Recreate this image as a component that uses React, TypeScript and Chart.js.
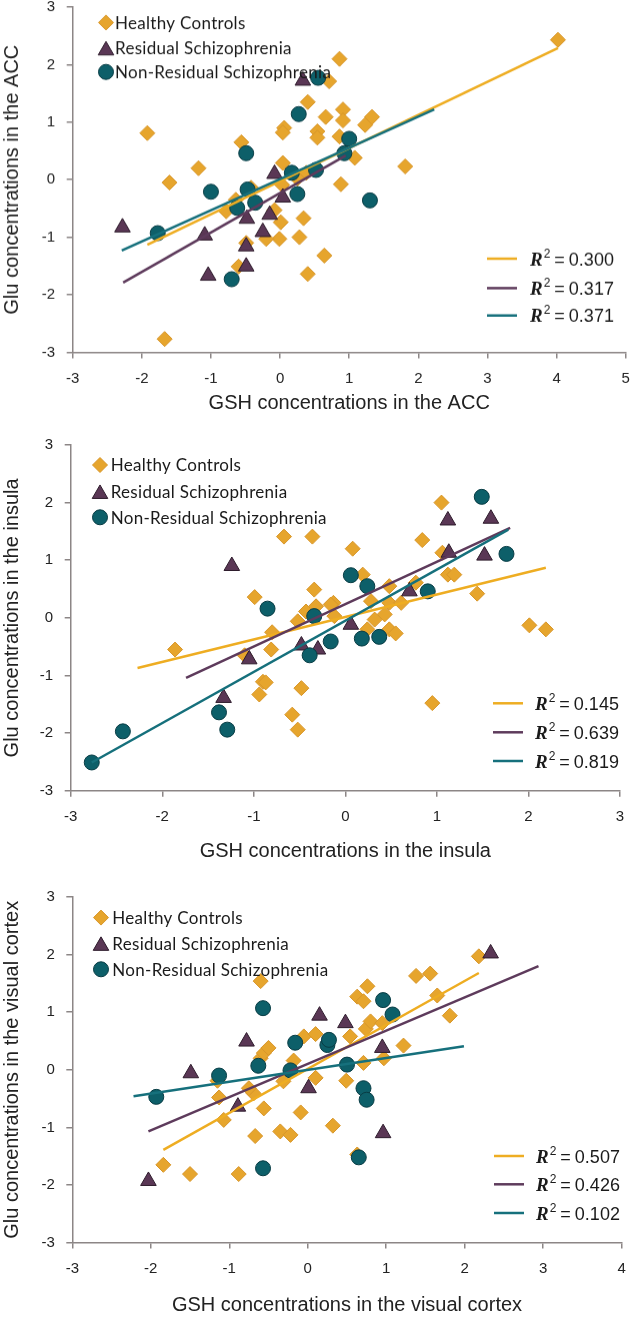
import React, { useEffect, useRef } from "react";
import { Chart, registerables } from "chart.js";

Chart.register(...registerables);

type Pt = [number, number];

// ---------- labels ----------
const GROUP_LABELS = ["Healthy Controls", "Residual Schizophrenia", "Non-Residual Schizophrenia"];
const Y_TICKS = [-3, -2, -1, 0, 1, 2, 3];
const ACC_X_TICKS = [-3, -2, -1, 0, 1, 2, 3, 4, 5];
const INS_X_TICKS = [-3, -2, -1, 0, 1, 2, 3];
const VIS_X_TICKS = [-3, -2, -1, 0, 1, 2, 3, 4];

// ---------- ACC ----------
const ACC_HEALTHY: Pt[] = [
  [-1.92, 0.81], [-1.6, -0.05], [-1.18, 0.2], [-1.67, -2.77], [-0.56, 0.65], [-0.6, -1.51],
  [-0.49, -1.1], [-0.64, -0.35], [-0.78, -0.55], [-0.42, -0.14], [0.04, 0.29], [0.06, 0.9],
  [0.04, 0.82], [0.4, 1.35], [0.03, -0.09], [0.01, -0.74], [-0.01, -1.03], [-0.2, -1.03],
  [-0.08, -0.53], [0.28, -1.0], [0.34, -0.67], [0.4, -1.64], [0.38, 0.12], [0.86, 2.1],
  [0.71, 1.71], [0.66, 1.09], [0.91, 1.22], [0.91, 1.03], [1.33, 1.09], [1.23, 0.95],
  [0.54, 0.84], [0.54, 0.73], [0.86, 0.75], [1.08, 0.38], [1.81, 0.23], [0.88, -0.08],
  [0.64, -1.32], [4.02, 2.43], [0.25, 0.02],
];
const ACC_RESIDUAL: Pt[] = [
  [-2.28, -0.83], [-1.09, -0.97], [-1.04, -1.67], [-0.48, -0.68], [-0.49, -1.16], [-0.49, -1.51],
  [-0.15, -0.61], [-0.25, -0.91], [-0.08, 0.1], [0.04, -0.31], [0.33, 1.72],
];
const ACC_NONRES: Pt[] = [
  [-1.77, -0.93], [-1.0, -0.21], [-0.49, 0.46], [-0.47, -0.17], [-0.62, -0.49], [-0.36, -0.4],
  [-0.7, -1.73], [0.17, 0.12], [0.25, -0.25], [0.27, 1.14], [0.55, 1.77], [0.52, 0.17],
  [1.0, 0.71], [0.93, 0.46], [1.3, -0.36],
];
const ACC_FIT_HEALTHY: Pt[] = [[-1.92, -1.13], [4.02, 2.29]];
const ACC_FIT_RESIDUAL: Pt[] = [[-2.27, -1.79], [0.95, 0.42]];
const ACC_FIT_NONRES: Pt[] = [[-2.29, -1.23], [2.23, 1.22]];
const ACC_R2 = ["0.300", "0.317", "0.371"];

// ---------- Insula ----------
const INS_HEALTHY: Pt[] = [
  [-1.86, -0.55], [-0.99, 0.36], [-0.67, 1.41], [-0.36, 1.41], [-0.8, -0.25], [-0.81, -0.55],
  [-0.9, -1.11], [-0.94, -1.33], [-0.48, -1.22], [-0.58, -1.68], [-0.52, -1.94], [-0.34, 0.49],
  [-0.43, 0.11], [-0.52, -0.06], [-1.1, -0.65], [-0.32, 0.2], [0.08, 1.2], [0.84, 1.35],
  [1.05, 2.0], [1.44, 0.42], [0.19, 0.75], [0.48, 0.55], [0.77, 0.61], [1.12, 0.75],
  [1.19, 0.75], [1.06, 1.13], [0.28, 0.29], [0.48, 0.26], [0.61, 0.26], [-0.13, 0.26],
  [-0.16, 0.23], [2.01, -0.13], [2.19, -0.2], [0.95, -1.48], [0.32, -0.03], [0.43, 0.06],
  [0.24, -0.2], [0.48, -0.2], [0.55, -0.27], [-0.12, 0.03], [-0.87, -1.12],
];
const INS_RESIDUAL: Pt[] = [
  [-1.24, 0.9], [-1.05, -0.72], [-1.33, -1.39], [-0.48, -0.48], [-0.3, -0.55], [0.06, -0.12],
  [0.7, 0.46], [1.12, 1.69], [1.13, 1.13], [1.59, 1.72], [1.52, 1.08],
];
const INS_NONRES: Pt[] = [
  [-2.77, -2.51], [-2.43, -1.97], [-1.38, -1.64], [-1.29, -1.94], [-0.85, 0.16], [-0.39, -0.65],
  [-0.34, 0.03], [-0.16, -0.41], [0.06, 0.74], [0.24, 0.55], [0.18, -0.36], [0.37, -0.33],
  [0.9, 0.46], [1.49, 2.1], [1.76, 1.11],
];
const INS_FIT_HEALTHY: Pt[] = [[-2.27, -0.87], [2.19, 0.87]];
const INS_FIT_RESIDUAL: Pt[] = [[-1.74, -1.04], [1.8, 1.56]];
const INS_FIT_NONRES: Pt[] = [[-2.77, -2.51], [1.78, 1.53]];
const INS_R2 = ["0.145", "0.639", "0.819"];

// ---------- Visual cortex ----------
const VIS_HEALTHY: Pt[] = [
  [-0.6, 1.54], [-1.84, -1.65], [-1.5, -1.81], [-0.88, -1.81], [-0.67, -1.15], [-0.35, -1.07],
  [-0.22, -1.13], [-0.09, -0.74], [-0.56, -0.67], [-1.07, -0.87], [-1.13, -0.48], [-1.15, -0.19],
  [-0.69, -0.41], [-0.75, -0.32], [-0.6, 0.2], [-0.56, 0.29], [-0.5, 0.38], [-0.31, -0.2],
  [-0.18, 0.16], [-0.05, 0.58], [0.1, 0.62], [0.1, -0.14], [0.54, 0.58], [0.63, 1.27],
  [0.71, 1.19], [0.76, 1.45], [0.74, 0.71], [0.8, 0.84], [0.95, 0.81], [1.38, 1.63],
  [1.56, 1.67], [1.65, 1.29], [1.81, 0.94], [2.18, 1.97], [1.22, 0.42], [0.71, 0.12],
  [0.97, 0.2], [0.49, -0.19], [0.32, -0.97], [0.63, -1.47],
];
const VIS_RESIDUAL: Pt[] = [
  [-2.03, -1.93], [-1.49, -0.06], [-0.89, -0.64], [-0.78, 0.49], [0.01, -0.32], [0.15, 0.94],
  [0.48, 0.81], [0.95, 0.38], [2.33, 2.02], [0.96, -1.1],
];
const VIS_NONRES: Pt[] = [
  [-1.93, -0.47], [-1.13, -0.1], [-0.63, 0.07], [-0.57, 1.07], [-0.16, 0.47], [-0.22, -0.01],
  [-0.57, -1.71], [0.25, 0.43], [0.27, 0.52], [0.96, 1.21], [1.08, 0.96], [0.5, 0.09],
  [0.71, -0.32], [0.75, -0.52], [0.65, -1.52],
];
const VIS_FIT_HEALTHY: Pt[] = [[-1.84, -1.39], [2.18, 1.68]];
const VIS_FIT_RESIDUAL: Pt[] = [[-2.03, -1.07], [2.94, 1.8]];
const VIS_FIT_NONRES: Pt[] = [[-2.22, -0.46], [1.99, 0.41]];
const VIS_R2 = ["0.507", "0.426", "0.102"];

// ---------- styles ----------
const HC_FILL = "#E6A52D";
const HC_EDGE = "#D8962A";
const RS_FILL = "#5A3755";
const RS_EDGE = "#2E1C2C";
const NR_FILL = "#0D5F69";
const NR_EDGE = "#083C44";
const HC_LINE = "#EEAD22";
const RS_LINE = "#5E3B5C";
const NR_LINE = "#16707C";
const AXIS = "#8C8686";
const TEXT = "#222222";
const SANS = "'Liberation Sans', Arial, sans-serif";

const R_DIAMOND = 7.5;
const R_TRIANGLE = 9;
const R_CIRCLE = 7.5;

const CANVAS_W = 660;
const TOP_EXTRA = 24;
const Y_TICK_PAD = 11.5;

interface PanelCfg {
  bottom: number;
  area: { left: number; top: number; right: number; bottom: number };
  xTicks: number[];
  xTitle: string;
  yTitle: string;
  xTitlePad: number;
  healthy: Pt[];
  residual: Pt[];
  nonres: Pt[];
  fits: Pt[][];
  r2: string[];
  legend: { mx: number; tx: number; ys: number[] };
  rLegend: { x1: number; x2: number; tx: number; ys: number[] };
}

const PANELS: PanelCfg[] = [
  {
    bottom: 420,
    area: { left: 72.7, top: 7.3, right: 625.7, bottom: 351.7 },
    xTicks: ACC_X_TICKS,
    xTitle: "GSH concentrations in the ACC",
    yTitle: "Glu concentrations in the ACC",
    xTitlePad: 5,
    healthy: ACC_HEALTHY, residual: ACC_RESIDUAL, nonres: ACC_NONRES,
    fits: [ACC_FIT_HEALTHY, ACC_FIT_RESIDUAL, ACC_FIT_NONRES],
    r2: ACC_R2,
    legend: { mx: 106, tx: 115, ys: [22.7, 48.3, 72] },
    rLegend: { x1: 487, x2: 517, tx: 530, ys: [258.3, 287.7, 315] },
  },
  {
    bottom: 870,
    area: { left: 70.7, top: 445, right: 620, bottom: 790.7 },
    xTicks: INS_X_TICKS,
    xTitle: "GSH concentrations in the insula",
    yTitle: "Glu concentrations in the insula",
    xTitlePad: 7,
    healthy: INS_HEALTHY, residual: INS_RESIDUAL, nonres: INS_NONRES,
    fits: [INS_FIT_HEALTHY, INS_FIT_RESIDUAL, INS_FIT_NONRES],
    r2: INS_R2,
    legend: { mx: 100, tx: 110.7, ys: [465, 491.7, 517.3] },
    rLegend: { x1: 493, x2: 523, tx: 535, ys: [703.3, 732.3, 761] },
  },
  {
    bottom: 1317,
    area: { left: 72.3, top: 896.7, right: 621.7, bottom: 1242.3 },
    xTicks: VIS_X_TICKS,
    xTitle: "GSH concentrations in the visual cortex",
    yTitle: "Glu concentrations in the visual cortex",
    xTitlePad: 0,
    healthy: VIS_HEALTHY, residual: VIS_RESIDUAL, nonres: VIS_NONRES,
    fits: [VIS_FIT_HEALTHY, VIS_FIT_RESIDUAL, VIS_FIT_NONRES],
    r2: VIS_R2,
    legend: { mx: 101, tx: 112.3, ys: [917.3, 943.3, 969] },
    rLegend: { x1: 494, x2: 524, tx: 536, ys: [1155.7, 1184, 1212.7] },
  },
];

const toXY = (pts: Pt[]) => pts.map(([x, y]) => ({ x, y }));

function drawMarker(ctx: CanvasRenderingContext2D, kind: number, x: number, y: number) {
  ctx.save();
  ctx.beginPath();
  if (kind === 0) {
    const r = R_DIAMOND;
    ctx.moveTo(x - r, y);
    ctx.lineTo(x, y - r);
    ctx.lineTo(x + r, y);
    ctx.lineTo(x, y + r);
    ctx.closePath();
    ctx.fillStyle = HC_FILL;
    ctx.strokeStyle = HC_EDGE;
  } else if (kind === 1) {
    const r = R_TRIANGLE;
    const cy = y + r / 4;
    ctx.moveTo(x, cy - r);
    ctx.lineTo(x + r * 0.866, cy + r / 2);
    ctx.lineTo(x - r * 0.866, cy + r / 2);
    ctx.closePath();
    ctx.fillStyle = RS_FILL;
    ctx.strokeStyle = RS_EDGE;
  } else {
    ctx.arc(x, y, R_CIRCLE, 0, Math.PI * 2);
    ctx.fillStyle = NR_FILL;
    ctx.strokeStyle = NR_EDGE;
  }
  ctx.lineWidth = 1;
  ctx.fill();
  ctx.stroke();
  ctx.restore();
}

function makeLegendPlugin(p: PanelCfg, off: number) {
  return {
    id: "customLegends",
    afterDraw(chart: any) {
      const ctx: CanvasRenderingContext2D = chart.ctx;
      ctx.save();
      ctx.font = "17px Lato, 'Open Sans', sans-serif";
      (ctx as any).letterSpacing = "0.3px";
      ctx.fillStyle = "#1a1a1a";
      ctx.textBaseline = "middle";
      ctx.textAlign = "left";
      GROUP_LABELS.forEach((label, i) => {
        const y = p.legend.ys[i] - off;
        drawMarker(ctx, i, p.legend.mx, y);
        ctx.fillText(label, p.legend.tx, y + 1);
      });
      ctx.restore();
      const lineColors = [HC_LINE, RS_LINE, NR_LINE];
      p.r2.forEach((val, i) => {
        const y = p.rLegend.ys[i] - off;
        ctx.save();
        ctx.strokeStyle = lineColors[i];
        ctx.lineWidth = 2.5;
        ctx.beginPath();
        ctx.moveTo(p.rLegend.x1, y);
        ctx.lineTo(p.rLegend.x2, y);
        ctx.stroke();
        ctx.fillStyle = "#1a1a1a";
        ctx.textBaseline = "alphabetic";
        ctx.textAlign = "left";
        const base = y + 6.5;
        let x = p.rLegend.tx;
        ctx.font = "italic bold 19px 'Liberation Serif', 'DejaVu Serif', serif";
        ctx.fillText("R", x, base);
        x += ctx.measureText("R").width + 1;
        ctx.font = "12px 'Liberation Sans', sans-serif";
        ctx.fillText("2", x, base - 8);
        x += ctx.measureText("2").width + 4;
        ctx.font = "18px 'Liberation Sans', sans-serif";
        ctx.fillText("=", x, base);
        x += ctx.measureText("=").width + 4;
        ctx.fillText(val, x, base);
        ctx.restore();
      });
    },
  };
}

function Panel({ p }: { p: PanelCfg }) {
  const ref = useRef<HTMLCanvasElement | null>(null);
  const top = p.area.top - TOP_EXTRA;
  const height = p.bottom - top;
  useEffect(() => {
    if (!ref.current) return;
    const xTicks = p.xTicks;
    const fitColors = [HC_LINE, RS_LINE, NR_LINE];
    const chart = new Chart(ref.current, {
      type: "scatter",
      data: {
        datasets: [
          {
            label: GROUP_LABELS[0],
            data: toXY(p.healthy),
            pointStyle: "rectRot",
            pointRadius: R_DIAMOND,
            backgroundColor: HC_FILL,
            borderColor: HC_EDGE,
            borderWidth: 1,
            order: 6,
          },
          {
            label: GROUP_LABELS[1],
            data: toXY(p.residual),
            pointStyle: "triangle",
            pointRadius: R_TRIANGLE,
            backgroundColor: RS_FILL,
            borderColor: RS_EDGE,
            borderWidth: 1,
            order: 5,
          },
          {
            label: GROUP_LABELS[2],
            data: toXY(p.nonres),
            pointStyle: "circle",
            pointRadius: R_CIRCLE,
            backgroundColor: NR_FILL,
            borderColor: NR_EDGE,
            borderWidth: 1,
            order: 4,
          },
          ...p.fits.map((f, i) => ({
            label: "fit " + GROUP_LABELS[i],
            data: toXY(f),
            showLine: true,
            pointRadius: 0,
            borderColor: fitColors[i],
            borderWidth: 2.5,
            backgroundColor: fitColors[i],
            order: 3 - i,
          })),
        ] as any,
      },
      options: {
        responsive: true,
        maintainAspectRatio: false,
        animation: false,
        events: [],
        layout: {
          padding: {
            left: 0,
            top: TOP_EXTRA,
            right: CANVAS_W - p.area.right,
            bottom: 0,
          },
        },
        plugins: {
          legend: { display: false },
          tooltip: { enabled: false },
        },
        scales: {
          x: {
            type: "linear",
            min: xTicks[0],
            max: xTicks[xTicks.length - 1],
            ticks: { stepSize: 1, padding: 11, color: TEXT, font: { family: SANS, size: 15 } },
            grid: { drawOnChartArea: false, drawTicks: true, tickLength: 6, color: AXIS, lineWidth: 1.5 },
            border: { color: AXIS, width: 1.5 },
            title: {
              display: true,
              text: p.xTitle,
              color: TEXT,
              font: { family: SANS, size: 20 },
              padding: { top: 0, bottom: p.xTitlePad },
            },
            afterFit: (scale: any) => {
              scale.height = p.bottom - p.area.bottom;
            },
          },
          y: {
            type: "linear",
            min: Y_TICKS[0],
            max: Y_TICKS[Y_TICKS.length - 1],
            ticks: { stepSize: 1, padding: Y_TICK_PAD, color: TEXT, font: { family: SANS, size: 15 } },
            grid: { drawOnChartArea: false, drawTicks: true, tickLength: 6, color: AXIS, lineWidth: 1.5 },
            border: { color: AXIS, width: 1.5 },
            title: {
              display: true,
              text: p.yTitle,
              color: TEXT,
              font: { family: SANS, size: 20 },
              padding: { top: 0, bottom: 0 },
            },
            afterFit: (scale: any) => {
              scale.width = p.area.left;
            },
          },
        },
      } as any,
      plugins: [makeLegendPlugin(p, top)],
    });
    return () => chart.destroy();
  }, [p]);
  return (
    <div style={{ position: "absolute", left: 0, top, width: CANVAS_W, height }}>
      <canvas ref={ref} />
    </div>
  );
}

export default function App() {
  return (
    <div style={{ position: "absolute", left: 0, top: 0, width: 633, height: 1317, overflow: "hidden", background: "#fff" }}>
      {PANELS.map((p, i) => (
        <Panel key={i} p={p} />
      ))}
    </div>
  );
}
